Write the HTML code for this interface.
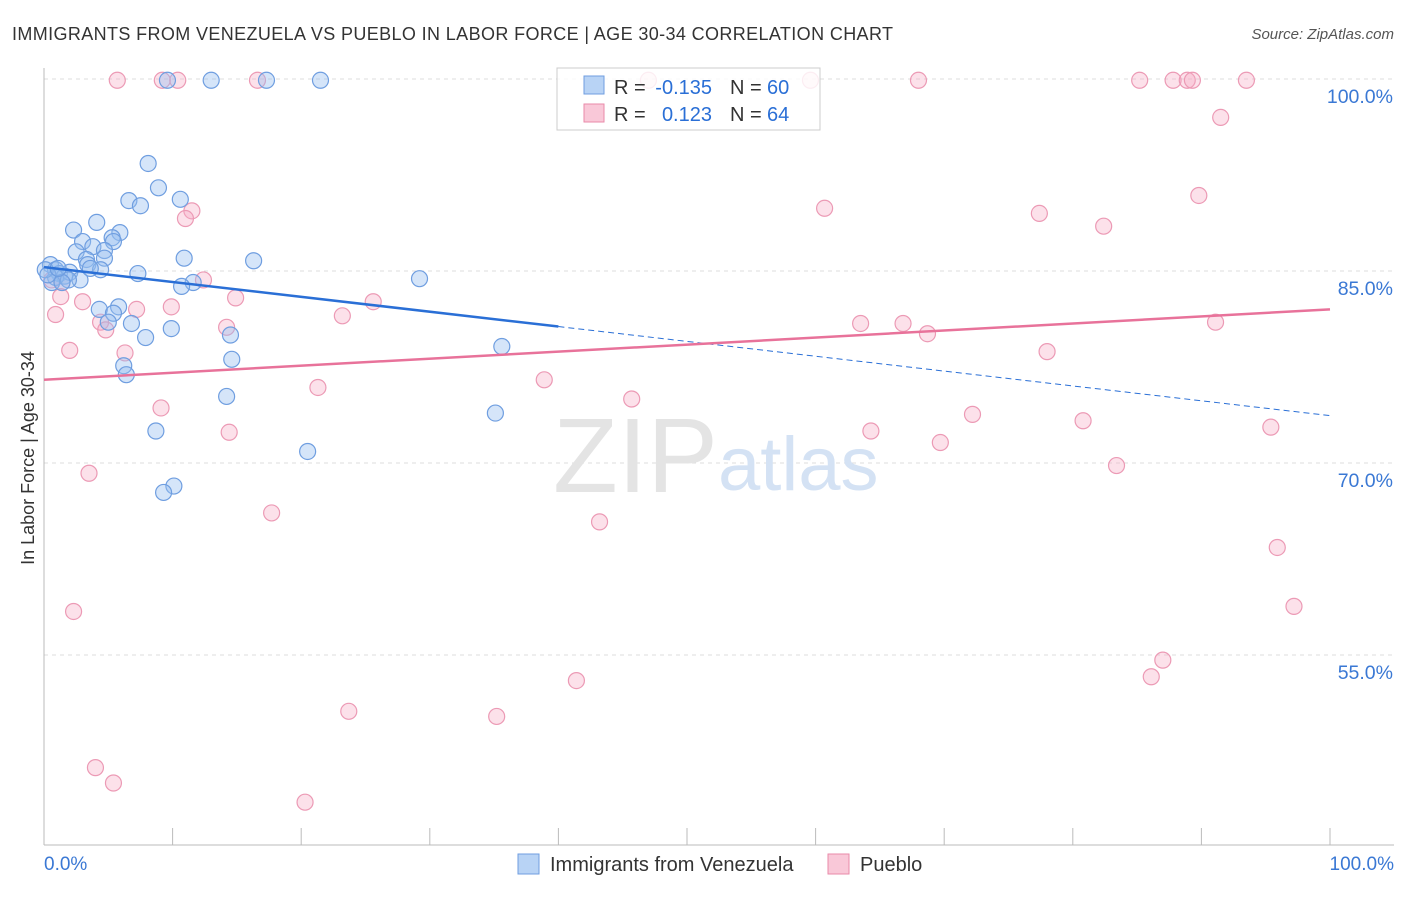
<!DOCTYPE html>
<html><head><meta charset="utf-8">
<style>
body{margin:0;background:#fff;font-family:"Liberation Sans",sans-serif;}
svg text{font-family:"Liberation Sans",sans-serif;}
</style></head>
<body>
<svg id="chart" width="1406" height="892">
<text x="12" y="40" font-size="18" fill="#333" textLength="881">IMMIGRANTS FROM VENEZUELA VS PUEBLO IN LABOR FORCE | AGE 30-34 CORRELATION CHART</text>
<text x="1394" y="39" font-size="15" fill="#555" text-anchor="end" font-style="italic">Source: ZipAtlas.com</text>
<text x="34" y="458" font-size="18" fill="#333" text-anchor="middle" transform="rotate(-90 34 458)">In Labor Force | Age 30-34</text>
<g id="grid"></g>
<text x="553" y="492" font-size="106" fill="#e4e4e4" font-family="Liberation Serif">ZIP</text>
<text x="718" y="490" font-size="76" fill="#d4e2f4">atlas</text>
<g id="pts"></g>
<g id="trends"></g>
<g>
<rect x="557" y="68" width="263" height="62" fill="rgba(255,255,255,0.82)" stroke="#ccc"/>
<rect x="584" y="76" width="20" height="18" fill="#b8d3f5" stroke="#6f9ee0"/>
<rect x="584" y="104" width="20" height="18" fill="#f9c8d8" stroke="#e98aa9"/>
<text x="614" y="94" font-size="20" fill="#333">R =</text>
<text x="712" y="94" font-size="20" fill="#2a6fd6" text-anchor="end">-0.135</text>
<text x="730" y="94" font-size="20" fill="#333">N =</text>
<text x="767" y="94" font-size="20" fill="#2a6fd6">60</text>
<text x="614" y="121" font-size="20" fill="#333">R =</text>
<text x="712" y="121" font-size="20" fill="#2a6fd6" text-anchor="end">0.123</text>
<text x="730" y="121" font-size="20" fill="#333">N =</text>
<text x="767" y="121" font-size="20" fill="#2a6fd6">64</text>
</g>
<g>
<rect x="518" y="854" width="21" height="20" fill="#b8d3f5" stroke="#6f9ee0"/>
<text x="550" y="871" font-size="20" fill="#333">Immigrants from Venezuela</text>
<rect x="828" y="854" width="21" height="20" fill="#f9c8d8" stroke="#e98aa9"/>
<text x="860" y="871" font-size="20" fill="#333">Pueblo</text>
</g>
</svg>
<script>
const blueX=[9.6,13.0,17.3,21.5,8.1,8.9,6.6,7.5,10.6,4.1,2.3,5.9,3.0,5.3,5.4,3.8,2.5,4.7,4.7,3.3,3.4,10.9,16.3,0.5,0.9,1.2,1.6,2.0,4.4,7.3,2.8,11.6,10.7,29.2,0.9,0.6,1.9,5.8,4.3,5.4,6.8,5.0,9.9,7.9,14.5,14.6,6.2,6.4,35.6,14.2,35.1,8.7,20.5,10.1,9.3,0.1,0.3,1.4,1.1,3.6];
const blueY=[99.9,99.9,99.9,99.9,93.4,91.5,90.5,90.1,90.6,88.8,88.2,88.0,87.3,87.6,87.3,86.9,86.5,86.6,86.0,85.9,85.5,86.0,85.8,85.5,85.1,84.8,84.6,84.9,85.1,84.8,84.3,84.1,83.8,84.4,84.5,84.1,84.3,82.2,82.0,81.7,80.9,81.0,80.5,79.8,80.0,78.1,77.6,76.9,79.1,75.2,73.9,72.5,70.9,68.2,67.7,85.1,84.7,84.1,85.2,85.2];
const pinkX=[5.7,9.2,10.4,16.6,47.0,59.6,68.0,85.2,87.8,88.9,89.3,93.5,91.5,89.8,60.7,77.4,82.4,11.5,11.0,12.4,1.4,0.6,1.3,3.0,14.9,25.6,0.9,7.2,9.9,23.2,4.4,4.8,14.2,63.5,66.8,68.7,91.1,2.0,6.3,78.0,38.9,21.3,45.7,9.1,72.2,64.3,69.7,80.8,95.4,14.4,3.5,83.4,17.7,43.2,95.9,2.3,97.2,87.0,86.1,41.4,23.7,35.2,4.0,5.4,20.3];
const pinkY=[99.9,99.9,99.9,99.9,99.9,99.9,99.9,99.9,99.9,99.9,99.9,99.9,97.0,90.9,89.9,89.5,88.5,89.7,89.1,84.3,84.1,84.3,83.0,82.6,82.9,82.6,81.6,82.0,82.2,81.5,81.0,80.4,80.6,80.9,80.9,80.1,81.0,78.8,78.6,78.7,76.5,75.9,75.0,74.3,73.8,72.5,71.6,73.3,72.8,72.4,69.2,69.8,66.1,65.4,63.4,58.4,58.8,54.6,53.3,53.0,50.6,50.2,46.2,45.0,43.5];
const yTicks=[100,85,70,55];
const yTickLabels=["100.0%","85.0%","70.0%","55.0%"];
const blueTrend=[85.3,73.7]; const blueSolidEnd=40;
const pinkTrend=[76.5,82.0];
const NS="http://www.w3.org/2000/svg";
const sx=v=>44+v*12.86, sy=v=>79+(100-v)*12.8;
function mk(t,a,p){const e=document.createElementNS(NS,t);for(const k in a)e.setAttribute(k,a[k]);p.appendChild(e);return e;}
const grid=document.getElementById('grid');
yTicks.forEach((t,i)=>{
 const l=mk('line',{x1:44,x2:1394,y1:sy(t),y2:sy(t),stroke:'#ddd','stroke-dasharray':'4,4'},grid);
 
 
 const tx=mk('text',{x:1393,y:sy(t)+24,'font-size':19.5,fill:'#3a78d4','text-anchor':'end'},grid);
 tx.textContent=yTickLabels[i];
 
 
});
mk('line',{x1:44,x2:44,y1:68,y2:845,stroke:'#bbb'},grid);
mk('line',{x1:44,x2:1394,y1:845,y2:845,stroke:'#bbb'},grid);
for(let i=0;i<=10;i++){const t=mk('line',{x1:sx(i*10),x2:sx(i*10),y1:828,y2:845,stroke:'#bbb'},grid);
 
 }
const x0=mk('text',{x:44,y:870,'font-size':19,fill:'#3a78d4'},grid);x0.textContent='0.0%';


const x1=mk('text',{x:1394,y:870,'font-size':19,fill:'#3a78d4','text-anchor':'end'},grid);x1.textContent='100.0%';


const pts=document.getElementById('pts');
pinkX.forEach((x,i)=>{const c=mk('circle',{cx:sx(x),cy:sy(pinkY[i]),r:8,fill:'rgba(245,170,195,0.35)',stroke:'#ec9ab5','stroke-width':1.2},pts);
 
 });
blueX.forEach((x,i)=>{const c=mk('circle',{cx:sx(x),cy:sy(blueY[i]),r:8,fill:'rgba(150,190,240,0.4)',stroke:'#6f9ee0','stroke-width':1.2},pts);
 
 });
const tr=document.getElementById('trends');
const by=x=>blueTrend[0]+(blueTrend[1]-blueTrend[0])*x/100;
const b1=mk('line',{x1:sx(0),y1:sy(by(0)),x2:sx(blueSolidEnd),y2:sy(by(blueSolidEnd)),stroke:'#2a6fd6','stroke-width':2.5},tr);


const b2=mk('line',{x1:sx(blueSolidEnd),y1:sy(by(blueSolidEnd)),x2:sx(100),y2:sy(by(100)),stroke:'#2a6fd6','stroke-width':1,'stroke-dasharray':'6,4'},tr);


const p1=mk('line',{x1:sx(0),y1:sy(pinkTrend[0]),x2:sx(100),y2:sy(pinkTrend[1]),stroke:'#e8729a','stroke-width':2.5},tr);


</script>
</body></html>
